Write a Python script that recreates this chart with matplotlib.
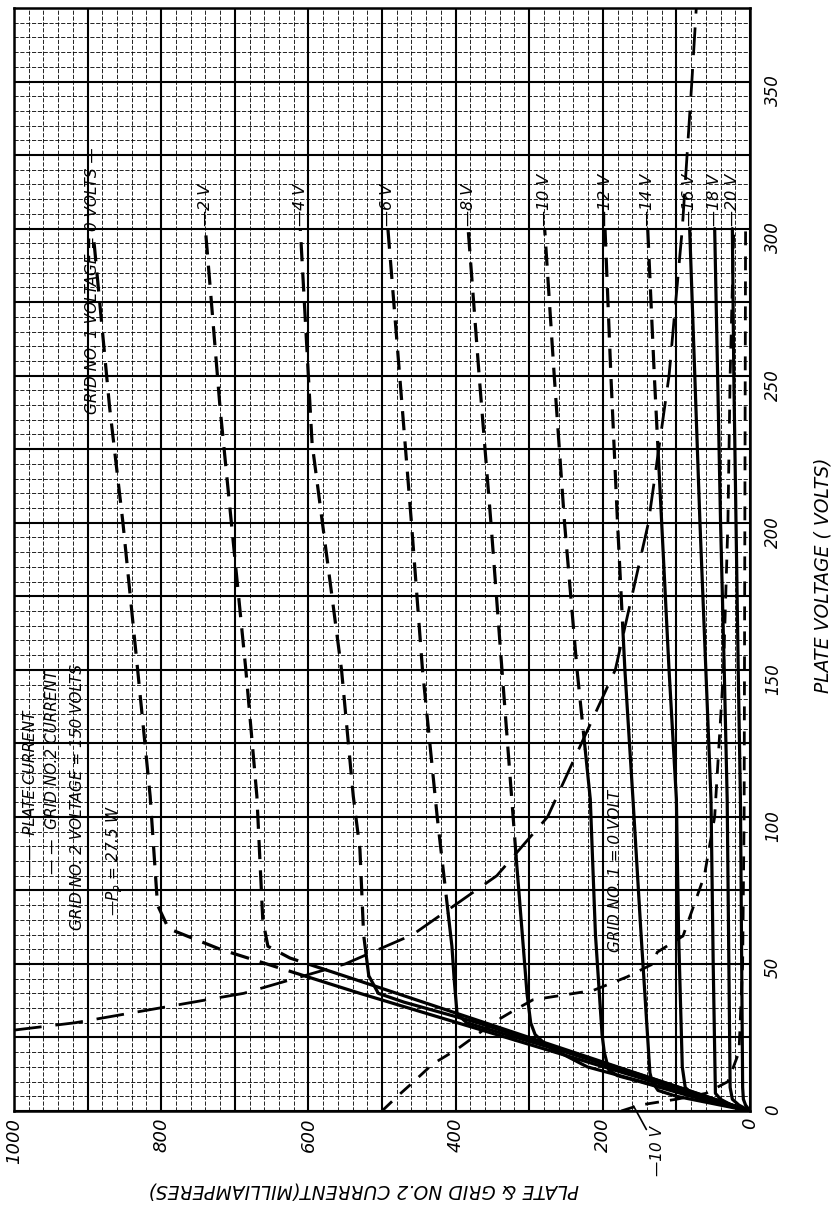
import matplotlib
matplotlib.use("Agg")
import matplotlib.pyplot as plt
from matplotlib.ticker import MultipleLocator, FuncFormatter

# plate characteristics, grid no.2 = 150 V
# voltages in volts, currents in mA
plate_curves = {
    "0":   ([0, 20, 40, 55, 62, 70, 107, 150, 200, 239, 300],
            [0, 265, 530, 720, 790, 805, 815, 832, 852, 870, 893]),
    "-2":  ([0, 15, 30, 45, 52, 56, 65, 107, 150, 239, 300],
            [0, 180, 360, 540, 625, 655, 662, 670, 685, 720, 740]),
    "-4":  ([0, 10, 20, 30, 37, 40, 46, 60, 89, 107, 150, 227, 300],
            [0, 120, 245, 370, 470, 505, 518, 525, 530, 539, 555, 595, 611]),
    "-6":  ([0, 10, 20, 27, 30, 33, 45, 56, 100, 150, 200, 250, 300],
            [0, 125, 250, 345, 385, 398, 402, 405, 425, 445, 460, 476, 492]),
    "-8":  ([0, 8, 15, 22, 26, 30, 40, 84, 150, 200, 250, 300],
            [0, 118, 221, 275, 292, 298, 303, 317, 337, 352, 368, 383]),
    "-10": ([0, 5, 10, 12, 14, 20, 26, 60, 106, 150, 200, 250, 300],
            [0, 80, 150, 180, 192, 198, 201, 210, 217, 235, 252, 266, 279]),
    "-12": ([0, 3, 5, 7, 10, 13, 60, 106, 150, 200, 250, 300],
            [0, 60, 100, 125, 133, 136, 148, 159, 170, 180, 189, 197]),
    "-14": ([0, 3, 5, 8, 15, 60, 106, 150, 200, 250, 300],
            [0, 50, 75, 88, 92, 97, 100, 110, 120, 130, 139]),
    "-16": ([0, 2, 4, 6, 50, 106, 150, 200, 250, 300],
            [0, 25, 40, 47, 50, 53, 60, 68, 75, 82]),
    "-18": ([0, 2, 4, 8, 106, 150, 200, 250, 300],
            [0, 15, 24, 27, 31, 35, 40, 44, 48]),
    "-20": ([0, 2, 4, 8, 106, 150, 200, 250, 300],
            [0, 6, 9, 10, 13, 16, 19, 22, 24]),
}

# grid no.2 current for grid no.1 = 0 V and -10 V
g2_zero_v = [0, 4.8, 9.5, 16, 21, 25, 30, 34, 37.8, 41, 45.6, 50, 54, 59.5, 80, 100, 150, 200, 250, 300]
g2_zero_i = [500, 480, 459, 431, 398, 376, 349, 322, 295, 213, 167, 132, 126, 91, 62, 48, 36, 30, 27, 22]
g2_ten_v = [0, 2, 4, 6, 10, 20, 50, 100, 200, 300]
g2_ten_i = [175, 150, 100, 60, 30, 15, 10, 8, 7, 6]

# plate dissipation line Pp = 27.5 W
pp_v = [27.5, 30, 40, 50, 60, 80, 100, 150, 200, 250, 300, 350, 375]
pp_i = [1000, 917, 688, 550, 458, 344, 275, 183, 138, 110, 92, 79, 73]
pp_limit = 27500  # V * mA

label_text = {"-2": "\u20142 V", "-4": "\u20144 V", "-6": "\u20146 V",
              "-8": "\u20148 V", "-10": "\u201410 V", "-12": "\u201412 V",
              "-14": "\u201414 V", "-16": "\u201416 V", "-18": "\u201418 V",
              "-20": "\u201420 V"}

fig = plt.figure(figsize=(8.33, 12.09), dpi=100)
ax = fig.add_axes([14 / 833, 98 / 1209, 736 / 833, 1103 / 1209])
ax.set_xlim(1000, 0)
ax.set_ylim(0, 375)

ax.xaxis.set_major_locator(MultipleLocator(100))
ax.xaxis.set_minor_locator(MultipleLocator(20))
ax.yaxis.set_major_locator(MultipleLocator(25))
ax.yaxis.set_minor_locator(MultipleLocator(5))
ax.xaxis.set_major_formatter(FuncFormatter(lambda v, p: "%d" % v if v % 200 == 0 else ""))
ax.yaxis.set_major_formatter(FuncFormatter(lambda v, p: "%d" % v if v % 50 == 0 else ""))
ax.yaxis.tick_right()
ax.tick_params(which="both", length=0)
ax.tick_params(axis="x", labelrotation=90, pad=5, labelsize=13)
ax.tick_params(axis="y", labelrotation=90, pad=10, labelsize=12)
for t in ax.get_xticklabels() + ax.get_yticklabels():
    t.set_fontstyle("italic")
ax.grid(which="major", color="black", lw=1.5)
ax.grid(which="minor", color="black", lw=0.6, ls=(0, (5, 2)))
for s in ax.spines.values():
    s.set_linewidth(1.8)


def split_at_limit(v, i):
    # part of the curve inside the dissipation rating is solid, the rest dashed
    for k in range(1, len(v)):
        if v[k] * i[k] > pp_limit:
            v0, i0, v1, i1 = v[k - 1], i[k - 1], v[k], i[k]
            lo, hi = 0.0, 1.0
            for _ in range(40):
                t = (lo + hi) / 2
                if (v0 + t * (v1 - v0)) * (i0 + t * (i1 - i0)) > pp_limit:
                    hi = t
                else:
                    lo = t
            vc, ic = v0 + lo * (v1 - v0), i0 + lo * (i1 - i0)
            return (v[:k] + [vc], i[:k] + [ic]), ([vc] + v[k:], [ic] + i[k:])
    return (v, i), None


for key, (v, i) in plate_curves.items():
    solid, dashed = split_at_limit(v, i)
    ax.plot(solid[1], solid[0], color="black", lw=2.3, solid_capstyle="round")
    if dashed:
        ax.plot(dashed[1], dashed[0], color="black", lw=2.3, ls=(0, (6, 3.5)))
    if key in label_text:
        ax.text(i[-1], v[-1] + 1, label_text[key], rotation=90, ha="center",
                va="bottom", fontsize=11.5, fontstyle="italic")

ax.plot(g2_zero_i, g2_zero_v, color="black", lw=2.0, ls=(0, (5, 4)))
ax.plot(g2_ten_i, g2_ten_v, color="black", lw=2.0, ls=(0, (5, 4)))
ax.plot(pp_i, pp_v, color="black", lw=2.0, ls=(0, (10, 5)))

it = dict(rotation=90, fontstyle="italic", fontsize=11, ha="center")
ax.text(894, 237, "GRID NO. 1 VOLTAGE = 0 VOLTS \u2014", va="bottom", **it)
ax.text(978, 136, "\u2014\u2014  PLATE CURRENT", va="top", **it)
ax.text(948, 150, "\u2014 \u2014  GRID NO.2 CURRENT", va="top", **it)
ax.text(914, 152, "GRID NO. 2 VOLTAGE = 150 VOLTS", va="top", **it)
ax.text(863, 104, "\u2014P$_p$ = 27.5 W", va="top", **it)
ax.text(183, 54, "GRID NO. 1 = 0 VOLT", va="bottom", **it)
ax.annotate("\u201410 V", xy=(160, 2.5), xytext=(125, -5), rotation=90,
            fontstyle="italic", fontsize=11, ha="center", va="top",
            annotation_clip=False,
            arrowprops=dict(arrowstyle="-", lw=1.2, color="black"))

fig.text(823 / 833, 1 - 575 / 1209, "PLATE VOLTAGE ( VOLTS)", rotation=90,
         ha="center", va="center", fontsize=13.5, fontstyle="italic")
fig.text(364 / 833, 1 - 1190 / 1209, "PLATE & GRID NO.2 CURRENT(MILLIAMPERES)",
         rotation=180, ha="center", va="center", fontsize=13.5, fontstyle="italic")

fig.savefig("out.png", dpi=100)
